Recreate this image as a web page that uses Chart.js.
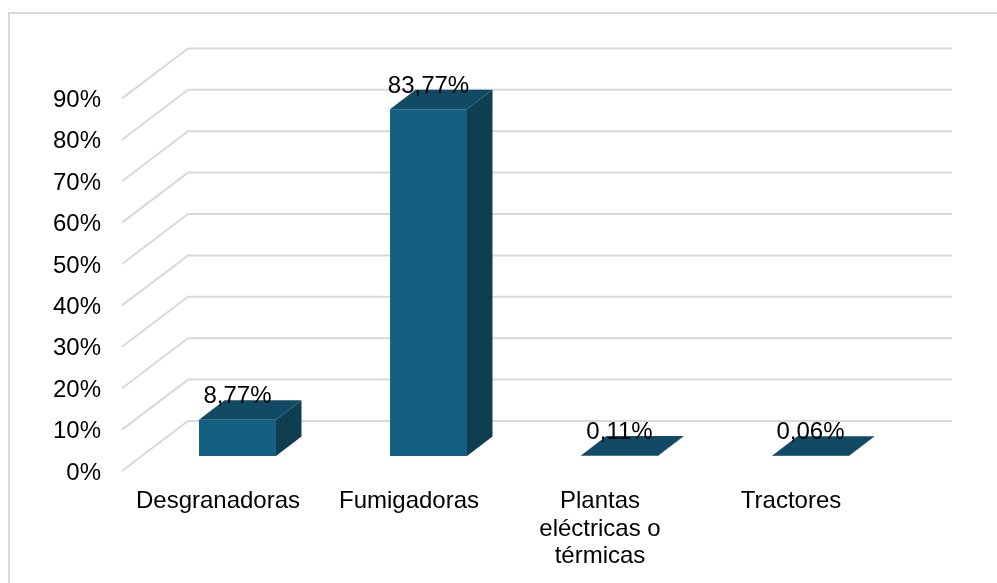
<!DOCTYPE html>
<html>
<head>
<meta charset="utf-8">
<script src="https://cdn.jsdelivr.net/npm/chart.js@4"></script>
<style>
    html, body { margin: 0; background: #fff; }
    #wrap { position: relative; width: 997px; height: 583px; }
</style>
</head>
<body>
<div id="wrap"><canvas id="myChart"></canvas></div>
<script>
const categorias = ['Desgranadoras', 'Fumigadoras', ['Plantas', 'eléctricas o', 'térmicas'], 'Tractores'];
const valores = [8.77, 83.77, 0.11, 0.06];
const ticksY = [0, 10, 20, 30, 40, 50, 60, 70, 80, 90];

const FUENTE = 'Arial, "Liberation Sans", sans-serif';
const COLOR_FRENTE = '#156082';
const COLOR_TOP = '#124a66';
const COLOR_LADO = '#0e3e50';
const COLOR_GRID = '#d9d9d9';

// offsets of the 3D look, measured from the plane the bars sit on
const PISO_FRENTE = { x: -20, y: 15 };
const PARED_FONDO = { x: 46, y: -35 };
const PROF_BARRA = { x: 25.5, y: -19.5 };

const marco = {
    id: 'marco',
    beforeDraw(chart) {
        const ctx = chart.ctx;
        ctx.save();
        ctx.strokeStyle = COLOR_GRID;
        ctx.lineWidth = 2;
        ctx.beginPath();
        ctx.moveTo(9, 583);
        ctx.lineTo(9, 13);
        ctx.lineTo(997, 13);
        ctx.stroke();
        ctx.restore();
    },
};

const paredes = {
    id: 'paredes',
    beforeDatasetsDraw(chart) {
        const { ctx, scales, chartArea } = chart;
        ctx.save();
        ctx.strokeStyle = COLOR_GRID;
        ctx.lineWidth = 2;
        for (const v of ticksY) {
            const y = scales.y.getPixelForValue(v);
            ctx.beginPath();
            ctx.moveTo(chartArea.left + PISO_FRENTE.x, y + PISO_FRENTE.y);
            ctx.lineTo(chartArea.left + PARED_FONDO.x, y + PARED_FONDO.y);
            ctx.lineTo(chartArea.right + PARED_FONDO.x, y + PARED_FONDO.y);
            ctx.stroke();
        }
        ctx.restore();
    },
};

const caras3d = {
    id: 'caras3d',
    afterDatasetsDraw(chart) {
        const ctx = chart.ctx;
        const barras = chart.getDatasetMeta(0).data;
        const dx = PROF_BARRA.x;
        const dy = PROF_BARRA.y;
        ctx.save();
        barras.forEach((barra) => {
            const izq = barra.x - barra.width / 2;
            const der = barra.x + barra.width / 2;
            const arriba = barra.y;
            const abajo = barra.base;

            ctx.fillStyle = COLOR_LADO;
            ctx.beginPath();
            ctx.moveTo(der, arriba);
            ctx.lineTo(der + dx, arriba + dy);
            ctx.lineTo(der + dx, abajo + dy);
            ctx.lineTo(der, abajo);
            ctx.closePath();
            ctx.fill();

            ctx.fillStyle = COLOR_TOP;
            ctx.beginPath();
            ctx.moveTo(izq, arriba);
            ctx.lineTo(izq + dx, arriba + dy);
            ctx.lineTo(der + dx, arriba + dy);
            ctx.lineTo(der, arriba);
            ctx.closePath();
            ctx.fill();
        });
        ctx.fillStyle = '#000';
        ctx.font = `24px ${FUENTE}`;
        ctx.textAlign = 'center';
        ctx.textBaseline = 'middle';
        barras.forEach((barra, i) => {
            const texto = valores[i].toFixed(2).replace('.', ',') + '%';
            ctx.fillText(texto, barra.x, barra.y - 23);
        });
        ctx.restore();
    },
};

Chart.defaults.font.family = FUENTE;
Chart.defaults.font.size = 24;
Chart.defaults.color = '#000';

new Chart(document.getElementById('myChart'), {
    type: 'bar',
    data: {
        labels: categorias,
        datasets: [
            {
                data: valores,
                backgroundColor: COLOR_FRENTE,
                categoryPercentage: 1,
                barPercentage: 0.403,
            },
        ],
    },
    options: {
        responsive: true,
        maintainAspectRatio: false,
        animation: false,
        layout: { padding: { top: 83.4, right: 91, left: 0, bottom: 0 } },
        plugins: { legend: { display: false }, tooltip: { enabled: false } },
        scales: {
            x: {
                afterFit(scale) { scale.height = 127; },
                grid: { display: false },
                border: { display: false },
                ticks: {
                    maxRotation: 0,
                    minRotation: 0,
                    autoSkip: false,
                    labelOffset: -19.5,
                    padding: 24,
                    font: { lineHeight: 1.14 },
                },
            },
            y: {
                min: 0,
                max: 90,
                afterFit(scale) { scale.width = 142; },
                grid: { display: false },
                border: { display: false },
                ticks: {
                    stepSize: 10,
                    labelOffset: 17,
                    padding: 33,
                    callback: (v) => v + '%',
                },
            },
        },
    },
    plugins: [marco, paredes, caras3d],
});
</script>
</body>
</html>
